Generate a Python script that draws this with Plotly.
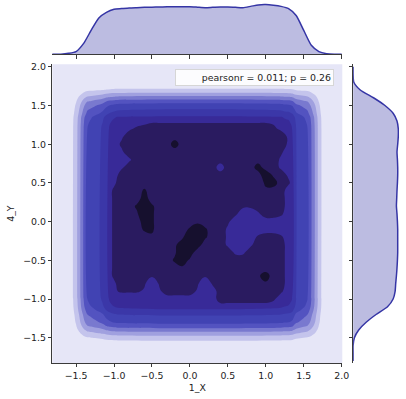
import plotly.graph_objects as go

# ---------------- joint density: edge profiles (fraction of interior plateau) ----------------
left_x = [-1.85, -1.80, -1.75, -1.70, -1.65, -1.60, -1.55, -1.50, -1.45, -1.40,
          -1.35, -1.30, -1.25, -1.20, -1.15, -1.10, -1.05, -1.00, -0.95]
left_v = [0.0, 0.0, 0.005, 0.02, 0.045, 0.075, 0.11, 0.21, 0.367, 0.533,
          0.667, 0.70, 0.737, 0.772, 0.817, 0.90, 0.95, 0.98, 1.0]
right_x = [1.20, 1.25, 1.30, 1.35, 1.40, 1.45, 1.50, 1.55, 1.60,
           1.65, 1.70, 1.75, 1.80, 1.85, 1.90, 1.95, 2.00, 2.05]
right_v = [1.0, 0.98, 0.97, 0.93, 0.80, 0.756, 0.711, 0.667, 0.533,
           0.383, 0.217, 0.09, 0.04, 0.015, 0.005, 0.0, 0.0, 0.0]
bottom_y = [-1.85, -1.80, -1.75, -1.70, -1.65, -1.60, -1.55, -1.50, -1.45,
            -1.40, -1.35, -1.30, -1.25, -1.20, -1.15, -1.10, -1.05, -1.00]
bottom_v = [0.0, 0.0, 0.005, 0.02, 0.045, 0.075, 0.11, 0.187, 0.32,
            0.453, 0.587, 0.689, 0.744, 0.80, 0.883, 0.95, 0.98, 1.0]
top_y = [1.20, 1.25, 1.30, 1.35, 1.40, 1.45, 1.50, 1.55, 1.60,
         1.65, 1.70, 1.75, 1.80, 1.85, 1.90, 1.95, 2.00, 2.05]
top_v = [1.0, 0.99, 0.97, 0.94, 0.85, 0.78, 0.71, 0.60, 0.453,
         0.30, 0.16, 0.07, 0.03, 0.01, 0.0, 0.0, 0.0, 0.0]
plateau_level = 7.5

# ---------------- joint density: interior detail (levels 3.5 and 6.5) ----------------
core_x = [-1.2, -1.1, -1.0, -0.9, -0.8, -0.7, -0.6, -0.5, -0.4, -0.3, -0.2, -0.1, 0.0, 0.1,
          0.2, 0.3, 0.4, 0.5, 0.6, 0.7, 0.8, 0.9, 1.0, 1.1, 1.2, 1.3, 1.4, 1.5]
core_y_top_down = [1.4, 1.3, 1.2, 1.1, 1.0, 0.9, 0.8, 0.7, 0.6, 0.5, 0.4, 0.3, 0.2, 0.1, 0.0,
                   -0.1, -0.2, -0.3, -0.4, -0.5, -0.6, -0.7, -0.8, -0.9, -1.0, -1.1, -1.2]
core_rows = [
    "2222222222222222222222222222",
    "2222222333333333333333333222",
    "2222345555555555555555543222",
    "2223555555555555555555555322",
    "2224555555855555555555555322",
    "2223555555555555555555554222",
    "2222355555555555555555553222",
    "2223555555555555255558553222",
    "2225555555555555555555965322",
    "2235555555555555555555785412",
    "2245557555555555555555655222",
    "2245558555555555555555555222",
    "2245579755555555555445555222",
    "2245569755555555554223554222",
    "2245558755555655542222222222",
    "2245557755557875532222222222",
    "2245555655569975532224554222",
    "2245555555689855532235555222",
    "2245555555698555553355555222",
    "2245555555786555555555555222",
    "2245555555565555555555555222",
    "2245555455555545555556855222",
    "2235554145555414555555655222",
    "2234443135555312555555554222",
    "1111111122222212555555542222",
    "2222222222222222222222222222",
    "2222222222222222222222222222",
]

# ---------------- marginal densities ----------------
marg_x = [-1.9, -1.8, -1.7, -1.6, -1.5, -1.4, -1.3, -1.2, -1.1, -1.0, -0.9, -0.8, -0.7,
          -0.6, -0.5, -0.4, -0.3, -0.2, -0.1, 0.0, 0.1, 0.2, 0.3, 0.4, 0.5, 0.6, 0.7,
          0.8, 0.9, 1.0, 1.1, 1.2, 1.3, 1.4, 1.5, 1.6, 1.7, 1.8, 1.9, 2.0]
dens_x = [0.0, 0.0, 0.001, 0.006, 0.017, 0.068, 0.151, 0.227, 0.262, 0.281, 0.285, 0.289,
          0.291, 0.293, 0.294, 0.295, 0.297, 0.297, 0.297, 0.297, 0.294, 0.291, 0.293,
          0.295, 0.295, 0.293, 0.291, 0.299, 0.308, 0.310, 0.306, 0.299, 0.285, 0.242,
          0.149, 0.056, 0.017, 0.004, 0.0, 0.0]
marg_y = [-1.8, -1.7, -1.6, -1.5, -1.4, -1.3, -1.2, -1.1, -1.0, -0.9, -0.8, -0.7, -0.6,
          -0.5, -0.4, -0.3, -0.2, -0.1, 0.0, 0.1, 0.2, 0.3, 0.4, 0.5, 0.6, 0.7, 0.8,
          0.9, 1.0, 1.1, 1.2, 1.3, 1.4, 1.5, 1.6, 1.7, 1.8, 1.9, 2.0]
dens_y = [0.0, 0.0, 0.0, 0.009, 0.039, 0.091, 0.16, 0.24, 0.279, 0.293, 0.297, 0.302,
          0.306, 0.309, 0.311, 0.311, 0.311, 0.311, 0.309, 0.306, 0.302, 0.304, 0.306,
          0.309, 0.311, 0.311, 0.309, 0.306, 0.311, 0.315, 0.315, 0.306, 0.279, 0.222,
          0.142, 0.05, 0.005, 0.0, 0.0]

tick_vals = [-1.5, -1.0, -0.5, 0.0, 0.5, 1.0, 1.5, 2.0]
x_range = [-1.812, 2.008]
y_range = [-1.826, 2.033]
stat_text = "pearsonr = 0.011; p = 0.26"

# ---------------- styling ----------------
band_colors = ["#e6e6f7", "#c4c4ec", "#a0a0df", "#7979cf", "#5353c0",
               "#4143b3", "#3b37a8", "#382a98"]
core_colors = ["rgba(0,0,0,0)", "#2a1b60", "#16102e"]
line_col = "#3535a5"
fill_col = "rgba(53,53,165,0.33)"
axis_col = "#3a3a3a"
font = dict(family="DejaVu Sans", size=9.4, color="#222222")

# ---------------- build grids ----------------
grid_x = left_x + right_x
grid_y = bottom_y + top_y
prof_x = left_v + right_v
prof_y = bottom_v + top_v
z_edges = [[plateau_level * py * px for px in prof_x] for py in prof_y]

core_y = core_y_top_down[::-1]
z_core = [[int(c) for c in row] for row in core_rows[::-1]]

fig = go.Figure()

fig.add_trace(go.Contour(
    x=grid_x, y=grid_y, z=z_edges, xaxis="x", yaxis="y",
    autocontour=False,
    contours=dict(start=1, end=7, size=1, coloring="fill", showlines=False),
    colorscale=[[k / 7, c] for k, c in enumerate(band_colors)],
    showscale=False, line=dict(width=0, smoothing=1.0), hoverinfo="skip",
))
fig.add_trace(go.Contour(
    x=core_x, y=core_y, z=z_core, xaxis="x", yaxis="y",
    autocontour=False,
    contours=dict(start=3.5, end=6.5, size=3, coloring="fill", showlines=False),
    colorscale=[[0, core_colors[0]], [0.5, core_colors[1]], [1, core_colors[2]]],
    showscale=False, line=dict(width=0, smoothing=1.3), hoverinfo="skip",
))

fig.add_trace(go.Scatter(
    x=marg_x, y=dens_x, xaxis="x2", yaxis="y2", mode="lines",
    line=dict(color=line_col, width=1.5, shape="spline", smoothing=0.6),
    fill="tozeroy", fillcolor=fill_col, hoverinfo="skip",
))
fig.add_trace(go.Scatter(
    x=dens_y, y=marg_y, xaxis="x3", yaxis="y3", mode="lines",
    line=dict(color=line_col, width=1.5, shape="spline", smoothing=0.6),
    fill="tozerox", fillcolor=fill_col, hoverinfo="skip",
))

main_xdom = [53.3 / 406, 348.3 / 406]
main_ydom = [(399 - 362.7) / 399, (399 - 61.7) / 399]

axis_common = dict(
    showgrid=False, zeroline=False, showline=True, linecolor=axis_col, linewidth=1,
    ticks="outside", ticklen=3.5, tickwidth=1, tickcolor=axis_col,
    tickvals=tick_vals, tickformat=".1f", tickfont=font,
)

fig.update_layout(
    width=406, height=399,
    margin=dict(l=0, r=0, t=0, b=0),
    paper_bgcolor="white", plot_bgcolor="white",
    showlegend=False,
    font=font,
    xaxis=dict(domain=main_xdom, range=x_range, anchor="y",
               title=dict(text="1_X", font=font, standoff=4), **axis_common),
    yaxis=dict(domain=main_ydom, range=y_range, anchor="x",
               title=dict(text="4_Y", font=font, standoff=6), **axis_common),
    xaxis2=dict(domain=main_xdom, range=x_range, anchor="y2",
                showticklabels=False, **axis_common),
    yaxis2=dict(domain=[(399 - 51.7) / 399, 1.0], range=[0, 0.32], anchor="x2",
                visible=False),
    xaxis3=dict(domain=[359.3 / 406, 1.0], range=[0, 0.32], anchor="y3", visible=False),
    yaxis3=dict(domain=main_ydom, range=y_range, anchor="x3",
                showticklabels=False, **axis_common),
)

fig.add_annotation(
    text=stat_text, xref="x domain", yref="y domain", x=1, y=1,
    xanchor="right", yanchor="top", xshift=-8, yshift=-5,
    showarrow=False, align="right", width=153, height=11,
    bgcolor="rgba(255,255,255,0.85)", bordercolor="#d6d6d6", borderwidth=1, borderpad=2,
    font=font,
)

fig.write_html("out.html")
